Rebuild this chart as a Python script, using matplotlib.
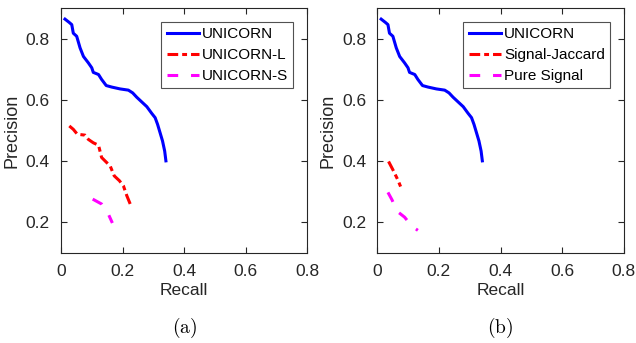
import matplotlib
matplotlib.use('Agg')
import matplotlib.pyplot as plt

plt.rcParams['font.family'] = ['Liberation Sans', 'DejaVu Sans']
plt.rcParams['mathtext.fontset'] = 'cm'

# UNICORN curve (same in both panels)
uni_recall = [0.013, 0.027, 0.035, 0.040, 0.051, 0.062, 0.073, 0.089, 0.100, 0.105,
              0.122, 0.132, 0.147, 0.165, 0.192, 0.219, 0.233, 0.246, 0.263, 0.279,
              0.295, 0.306, 0.314, 0.322, 0.330, 0.337, 0.341]
uni_prec = [0.864, 0.853, 0.846, 0.818, 0.808, 0.770, 0.742, 0.721, 0.705, 0.690,
            0.683, 0.667, 0.647, 0.642, 0.636, 0.632, 0.623, 0.609, 0.593, 0.578,
            0.556, 0.542, 0.520, 0.493, 0.466, 0.433, 0.401]

# panel (a)
uniL_recall = [0.027, 0.040, 0.053, 0.078, 0.089, 0.105, 0.122, 0.132, 0.149, 0.160,
               0.173, 0.190, 0.203, 0.214, 0.225]
uniL_prec = [0.515, 0.504, 0.488, 0.485, 0.471, 0.460, 0.452, 0.412, 0.395, 0.384,
             0.352, 0.336, 0.319, 0.287, 0.260]
uniS_recall = [0.103, 0.132, 0.154, 0.167]
uniS_prec = [0.276, 0.260, 0.227, 0.198]

# panel (b)
jac_recall = [0.037, 0.051, 0.067, 0.076]
jac_prec = [0.399, 0.372, 0.339, 0.317]
pure_recall = [0.035, 0.048, 0.065, 0.089, 0.113, 0.132]
pure_prec = [0.298, 0.274, 0.236, 0.217, 0.187, 0.174]

xticks = [0, 0.2, 0.4, 0.6, 0.8]
xticklabels = ['0', '0.2', '0.4', '0.6', '0.8']
yticks = [0.2, 0.4, 0.6, 0.8]

fig = plt.figure(figsize=(6.36, 3.43), dpi=100)
ax1 = fig.add_axes([0.0959, 0.2624, 0.387, 0.714])
ax2 = fig.add_axes([0.593, 0.2624, 0.388, 0.714])

panels = [
    (ax1, (uniL_recall, uniL_prec, 'UNICORN-L'), (uniS_recall, uniS_prec, 'UNICORN-S'), 'a'),
    (ax2, (jac_recall, jac_prec, 'Signal-Jaccard'), (pure_recall, pure_prec, 'Pure Signal'), 'b'),
]

for ax, s2, s3, cap in panels:
    ax.plot(uni_recall, uni_prec, color='#0000ff', lw=2.2, label='UNICORN')
    ax.plot(s2[0], s2[1], color='#ff0000', lw=2.2, dashes=(3.5, 1.3, 1.6, 1.3), label=s2[2])
    ax.plot(s3[0], s3[1], color='#ff00ff', lw=2.2, dashes=(3.5, 4.2), label=s3[2])
    ax.set_xlim(0, 0.8)
    ax.set_ylim(0.1, 0.9)
    ax.set_xticks(xticks)
    ax.set_xticklabels(xticklabels)
    ax.set_yticks(yticks)
    ax.tick_params(direction='in', length=4, labelsize=12.5, top=True, right=True,
                   color='#262626', labelcolor='#262626', pad=8)
    for sp in ax.spines.values():
        sp.set_color('#262626')
        sp.set_linewidth(0.8)
    ax.set_xlabel('Recall', fontsize=12.5, color='#262626', labelpad=3)
    ax.set_ylabel('Precision', fontsize=13, color='#262626', labelpad=4)
    leg = ax.legend(loc='upper right', fontsize=11, frameon=True, fancybox=False,
                    edgecolor='#262626', handlelength=2.1, handletextpad=0.2,
                    borderpad=0.35, labelspacing=0.45, borderaxespad=0.9)
    leg.get_frame().set_linewidth(0.8)
    ax.text(0.5, -0.306, '$(\\mathrm{' + cap + '})$', transform=ax.transAxes,
            ha='center', va='center', fontsize=14)

fig.savefig('out.png', dpi=100)
